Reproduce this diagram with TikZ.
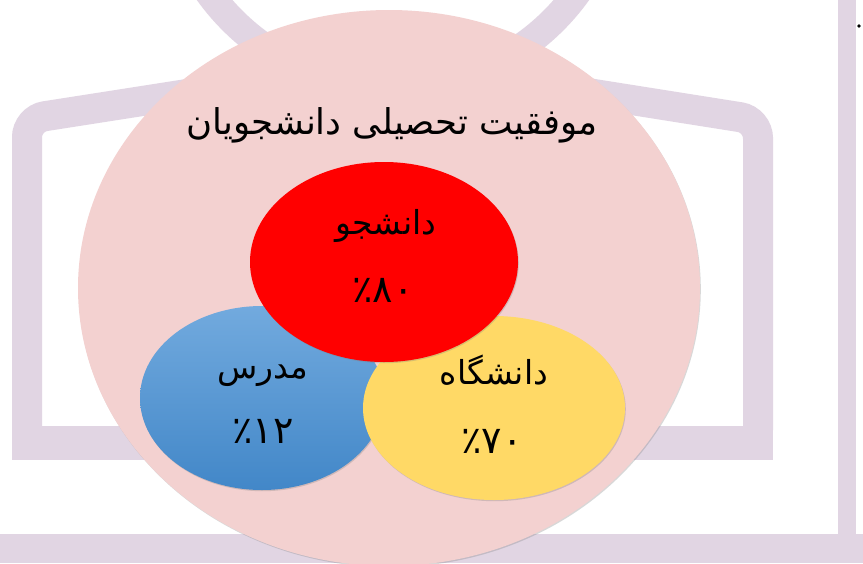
\documentclass[tikz,border=0pt]{standalone}
\usepackage{fontspec}
\usetikzlibrary{shapes.geometric, shadows, positioning}
\newfontfamily\farsi[Script=Arabic]{DejaVu Sans}
\TeXXeTstate=1
\definecolor{lav}{RGB}{225,213,227}
\definecolor{rosy}{RGB}{243,209,208}
\definecolor{gold}{RGB}{255,217,102}
\definecolor{skytop}{RGB}{114,170,222}
\definecolor{skybot}{RGB}{66,135,200}

\begin{document}
\begin{tikzpicture}[x=1pt, y=-1pt,
    blob/.style={ellipse, inner sep=0pt, drop shadow={opacity=0.3, shadow xshift=0.8pt, shadow yshift=-1.2pt}},
    word/.style={anchor=base, inner sep=0pt, font=\farsi\fontsize{33}{39}\selectfont},
    pct/.style={anchor=base, inner sep=0pt, font=\farsi\fontsize{38}{44}\selectfont}]
  \useasboundingbox (0,0) rectangle (863,563);
  \fill[white] (0,0) rectangle (863,563);

  %% frame
  \fill[lav] (838,0) rectangle (856,563);
  \fill[lav] (0,534) rectangle (863,563);
  \fill[lav] (12,426) rectangle (773,460);
  \draw[lav, line width=30pt, rounded corners=18pt] (27,430) -- (27,119) -- (392,62) -- (758,120) -- (758,430);
  \draw[lav, line width=28pt] (393,-140) circle (227);
  \fill (859,26) circle (1.8);

  %% big ellipse
  \node[blob, fill=rosy, minimum width=622pt, minimum height=556pt] (E0) at (389,288) {};
  \node[anchor=base, font=\farsi\fontsize{35.5}{42}\selectfont] (T0) at (392,134) {\beginR موفقیت تحصیلی دانشجویان\endR};

  %% three sets
  \node[blob, top color=skytop, bottom color=skybot, minimum width=244pt, minimum height=184pt] (E2) at (262,398) {};
  \node[blob, fill=gold, minimum width=262pt, minimum height=184pt] (E3) at (494,408) {};
  \node[blob, fill=red, minimum width=268pt, minimum height=200pt] (E1) at (384,262) {};

  \node[word] (W1) at (386,234) {\beginR دانشجو\endR};
  \node[pct] (P1) at (383,302) {\beginR\beginL ۸۰\endL ٪\endR};
  \node[word] (W2) at (263,378) {\beginR مدرس\endR};
  \node[pct] (P2) at (263,443) {\beginR\beginL ۱۲\endL ٪\endR};
  \node[word] (W3) at (494,384) {\beginR دانشگاه\endR};
  \node[pct] (P3) at (492,453) {\beginR\beginL ۷۰\endL ٪\endR};
\end{tikzpicture}
\end{document}
